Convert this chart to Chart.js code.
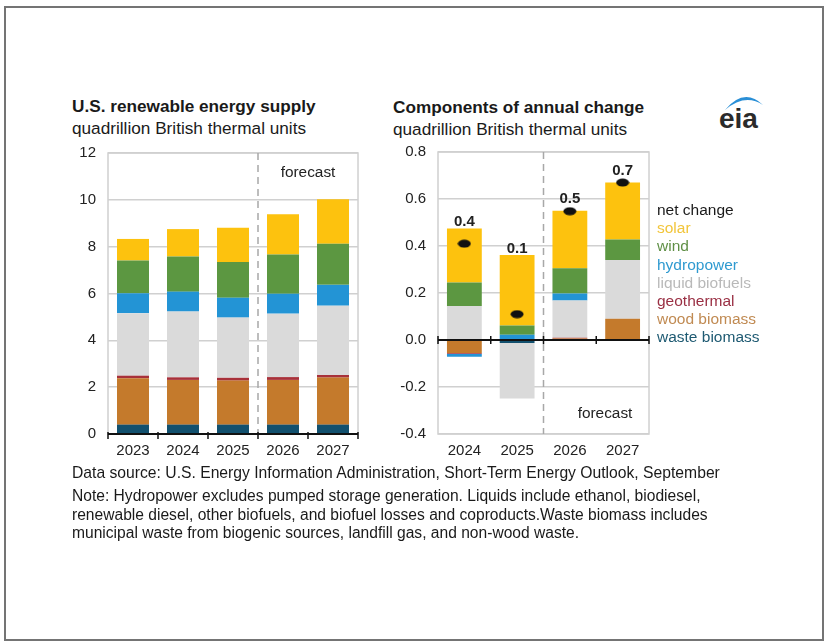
<!DOCTYPE html>
<html>
<head>
<meta charset="utf-8">
<script src="https://cdn.jsdelivr.net/npm/chart.js@4.4.0/dist/chart.umd.min.js"></script>
<style>
    body { margin: 0; background: #fff; font-family: "Liberation Sans", Arial, sans-serif; color: #1a1a1a; }
    #page { position: relative; width: 828px; height: 643px; overflow: hidden; }
    #frame { position: absolute; left: 4px; top: 6px; width: 816px; height: 631px; border: 2px solid #747474; }
    .title { position: absolute; font-weight: bold; font-size: 17.2px; line-height: 20px; white-space: nowrap; }
    .sub { position: absolute; font-size: 17.2px; line-height: 20px; white-space: nowrap; }
    .chartBox { position: absolute; }
    #legend { position: absolute; left: 657px; top: 201px; font-size: 15.5px; line-height: 18.2px; white-space: nowrap; }
    #source { position: absolute; left: 72px; top: 464px; font-size: 15.7px; line-height: 18px; white-space: nowrap; }
    #note { position: absolute; left: 72px; top: 487px; font-size: 15.6px; line-height: 18.5px; white-space: nowrap; }
    #logo { position: absolute; left: 712px; top: 88px; }
</style>
</head>
<body>
<div id="page">
    <div id="frame"></div>
    <div class="title" style="left:72px;top:96px">U.S. renewable energy supply</div>
    <div class="sub" style="left:72px;top:118px">quadrillion British thermal units</div>
    <div class="title" style="left:393px;top:97px">Components of annual change</div>
    <div class="sub" style="left:393px;top:119px">quadrillion British thermal units</div>
    <svg id="logo" width="60" height="46" viewBox="0 0 60 46">
        <path d="M13 22 Q32 -1 51 17 Q33 5 13 22 Z" fill="#2a8fd6"/>
        <text x="7" y="40" font-family="Liberation Sans, Arial, sans-serif" font-size="28" font-weight="bold" fill="#2b2b2b">eia</text>
    </svg>

    <div class="chartBox" style="left:60px;top:140px"><canvas id="supplyChart" width="310" height="330"></canvas></div>
    <div class="chartBox" style="left:380px;top:140px"><canvas id="changeChart" width="280" height="330"></canvas></div>
    <div id="legend"></div>

    <div id="source">Data source: U.S. Energy Information Administration, Short-Term Energy Outlook, September</div>
    <div id="note">Note: Hydropower excludes pumped storage generation. Liquids include ethanol, biodiesel,<br>renewable diesel, other biofuels, and biofuel losses and coproducts.Waste biomass includes<br>municipal waste from biogenic sources, landfill gas, and non-wood waste.</div>
</div>

<script>
// Data
var supplyYears = ['2023', '2024', '2025', '2026', '2027'];
var changeYears = ['2024', '2025', '2026', '2027'];

var seriesNames = ['waste biomass', 'wood biomass', 'geothermal', 'liquid biofuels', 'hydropower', 'wind', 'solar'];

// supply, quadrillion Btu (bottom -> top)
var wasteSupply  = [0.40, 0.40, 0.40, 0.40, 0.40];
var woodSupply   = [1.98, 1.91, 1.88, 1.91, 2.01];
var geoSupply    = [0.11, 0.11, 0.12, 0.12, 0.11];
var liquidSupply = [2.67, 2.81, 2.57, 2.71, 2.96];
var hydroSupply  = [0.85, 0.85, 0.85, 0.85, 0.89];
var windSupply   = [1.40, 1.50, 1.52, 1.68, 1.75];
var solarSupply  = [0.92, 1.17, 1.47, 1.71, 1.91];

// annual change, quadrillion Btu
var wasteChange  = [0, -0.013, 0, 0];
var woodChange   = [-0.055, 0, 0.006, 0.09];
var geoChange    = [-0.004, 0, 0.004, 0];
var liquidChange = [0.145, -0.236, 0.158, 0.25];
var hydroChange  = [-0.012, 0.022, 0.03, 0];
var windChange   = [0.10, 0.04, 0.107, 0.088];
var solarChange  = [0.23, 0.30, 0.245, 0.242];
var netChange    = [0.41, 0.11, 0.548, 0.67];

var supplyYTicks = [0, 12, 2];
var changeYTicks = [-0.4, 0.8, 0.2];

(function() {
    'use strict';

    var FONT = "'Liberation Sans', Arial, sans-serif";
    var barColors = ['#12506e', '#c47a2c', '#a8313a', '#dadada', '#2394d5', '#5c9741', '#fdc20e'];
    var legendColors = ['#1e5a72', '#c08a52', '#9a3044', '#b9b9b9', '#2f9ad0', '#5f8f45', '#f2c53a'];

    Chart.defaults.font.family = FONT;
    Chart.defaults.color = '#222';

    // draws frame, zero line, boundary ticks, forecast divider and labels
    var decoPlugin = {
        id: 'deco',
        beforeDatasetsDraw: function(chart) {
            var a = chart.chartArea, ctx = chart.ctx;
            ctx.save();
            ctx.strokeStyle = '#d0d0d0';
            ctx.lineWidth = 1.5;
            ctx.strokeRect(a.left, a.top, a.right - a.left, a.bottom - a.top);
            ctx.restore();
        },
        afterDatasetsDraw: function(chart, args, opts) {
            var a = chart.chartArea, ctx = chart.ctx;
            var n = chart.data.labels.length;
            var step = (a.right - a.left) / n;
            var yScale = chart.scales.y;
            var y0 = yScale.getPixelForValue(0);
            ctx.save();

            // forecast divider
            var dx = a.left + step * opts.forecastIndex;
            ctx.strokeStyle = '#a8a8a8';
            ctx.lineWidth = 1.5;
            ctx.setLineDash([7, 5]);
            ctx.beginPath();
            ctx.moveTo(dx, a.top);
            ctx.lineTo(dx, a.bottom);
            ctx.stroke();
            ctx.setLineDash([]);

            // zero line + category ticks
            ctx.strokeStyle = '#111';
            ctx.lineWidth = 2;
            ctx.beginPath();
            ctx.moveTo(a.left, y0);
            ctx.lineTo(a.right, y0);
            ctx.stroke();
            ctx.lineWidth = 1.5;
            for (var i = 0; i <= n; i++) {
                var tx = a.left + step * i;
                ctx.beginPath();
                ctx.moveTo(tx, y0 - opts.tickUp);
                ctx.lineTo(tx, y0 + opts.tickDown);
                ctx.stroke();
            }

            // forecast text
            ctx.fillStyle = '#222';
            ctx.font = '15.4px ' + FONT;
            ctx.textAlign = 'center';
            ctx.textBaseline = 'middle';
            var fy = opts.forecastAtTop ? a.top + 20 : a.bottom - 20;
            ctx.fillText('forecast', a.right - opts.forecastRight, fy);

            // net change labels above bars (and above the marker when it sits on top)
            if (opts.netLabels) {
                ctx.font = 'bold 15px ' + FONT;
                ctx.textBaseline = 'alphabetic';
                var barSets = chart.data.datasets.filter(function(d) { return d.type !== 'line'; });
                for (var j = 0; j < n; j++) {
                    var top = 0;
                    barSets.forEach(function(d) { if (d.data[j] > 0) top += d.data[j]; });
                    var cx = chart.scales.x.getPixelForValue(j);
                    var ly = Math.min(yScale.getPixelForValue(top) - 2, yScale.getPixelForValue(opts.netLabels[j]) - 8);
                    ctx.fillText(opts.netLabels[j].toFixed(1), cx, ly);
                }
            }
            ctx.restore();
        }
    };

    _init();

    function _init() {
        _buildLegend();
        new Chart(document.getElementById('supplyChart'), _configSupplyChart());
        new Chart(document.getElementById('changeChart'), _configChangeChart());
    }

    function _buildLegend() {
        var html = '<div style="color:#1a1a1a">net change</div>';
        for (var i = seriesNames.length - 1; i >= 0; i--) {
            html += '<div style="color:' + legendColors[i] + '">' + seriesNames[i] + '</div>';
        }
        document.getElementById('legend').innerHTML = html;
    }

    function _barSets(seriesData, pct) {
        return seriesData.map(function(data, i) {
            return {
                type: 'bar',
                label: seriesNames[i],
                data: data,
                backgroundColor: barColors[i],
                borderWidth: 0,
                barPercentage: pct,
                categoryPercentage: 1,
                stack: 'energy',
                order: 0
            };
        });
    }

    function _scales(yMin, yMax, yStep, yWidth, fmt) {
        return {
            x: {
                stacked: true,
                grid: { display: false, drawTicks: false },
                border: { display: false },
                ticks: { font: { size: 15 }, color: '#222', padding: 8 },
                afterFit: function(s) { s.height = 36; s.paddingLeft = 0; s.paddingRight = 0; }
            },
            y: {
                stacked: true,
                min: yMin, max: yMax,
                grid: { color: '#d0d0d0', lineWidth: 1.5, drawTicks: false },
                border: { display: false },
                ticks: { stepSize: yStep, font: { size: 15 }, color: '#222', padding: 12, callback: fmt },
                afterFit: function(s) { s.width = yWidth; s.paddingTop = 0; s.paddingBottom = 0; }
            }
        };
    }

    function _configSupplyChart() {
        var data = [wasteSupply, woodSupply, geoSupply, liquidSupply, hydroSupply, windSupply, solarSupply];
        return {
            type: 'bar',
            data: { labels: supplyYears, datasets: _barSets(data, 0.64) },
            options: {
                responsive: false,
                animation: false,
                layout: { padding: { top: 13, right: 12, left: 0, bottom: 0 } },
                plugins: {
                    legend: { display: false },
                    tooltip: { enabled: false },
                    deco: { forecastIndex: 3, tickUp: 2, tickDown: 5, forecastAtTop: true, forecastRight: 50 }
                },
                scales: _scales(supplyYTicks[0], supplyYTicks[1], supplyYTicks[2], 48, function(v) { return v; })
            },
            plugins: [decoPlugin]
        };
    }

    function _configChangeChart() {
        var data = [wasteChange, woodChange, geoChange, liquidChange, hydroChange, windChange, solarChange];
        var sets = _barSets(data, 0.66);

        // small black ellipse marker for net change
        var dot = document.createElement('canvas');
        dot.width = 14; dot.height = 9;
        var dctx = dot.getContext('2d');
        dctx.fillStyle = '#111';
        dctx.beginPath();
        dctx.ellipse(7, 4.5, 6.5, 4, 0, 0, Math.PI * 2);
        dctx.fill();

        sets.push({
            type: 'line',
            label: 'net change',
            data: netChange,
            showLine: false,
            pointStyle: dot,
            stack: 'net',
            order: -1
        });

        return {
            type: 'bar',
            data: { labels: changeYears, datasets: sets },
            options: {
                responsive: false,
                animation: false,
                layout: { padding: { top: 12, right: 11, left: 0, bottom: 0 } },
                plugins: {
                    legend: { display: false },
                    tooltip: { enabled: false },
                    deco: { forecastIndex: 2, tickUp: 4, tickDown: 4, forecastAtTop: false, forecastRight: 44, netLabels: netChange }
                },
                scales: _scales(changeYTicks[0], changeYTicks[1], changeYTicks[2], 58, function(v) {
                    return Math.abs(v) < 1e-9 ? '0.0' : v.toFixed(1);
                })
            },
            plugins: [decoPlugin]
        };
    }
})();
</script>
</body>
</html>
